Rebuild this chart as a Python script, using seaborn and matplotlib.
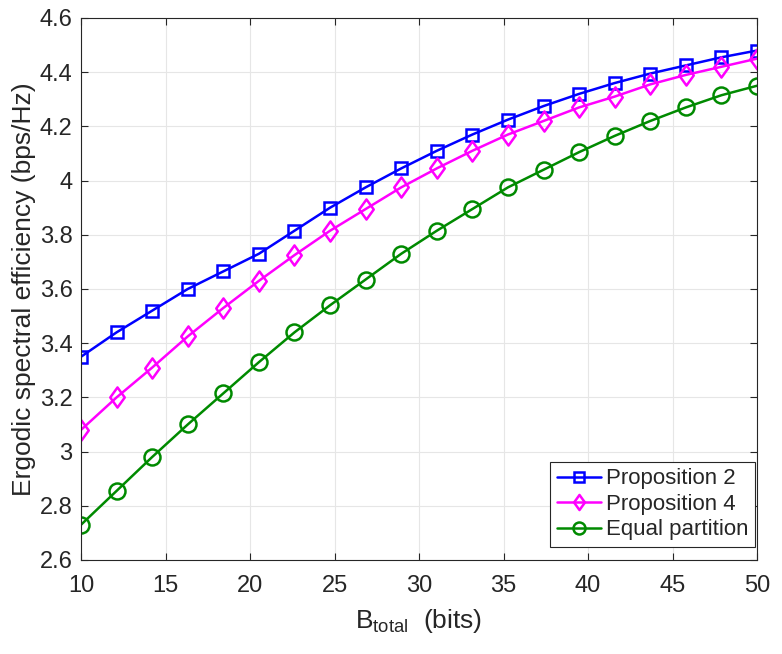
import numpy as np
import pandas as pd
import matplotlib
matplotlib.use("Agg")
import matplotlib.pyplot as plt
from matplotlib.path import Path
import seaborn as sns

# B_total values (20 points from 10 to 50 bits)
b_total = np.linspace(10, 50, 20)

prop2 = [3.35, 3.44, 3.52, 3.60, 3.665, 3.73, 3.815, 3.90, 3.975, 4.045,
         4.11, 4.17, 4.225, 4.275, 4.32, 4.36, 4.395, 4.425, 4.455, 4.48]
prop4 = [3.08, 3.20, 3.31, 3.425, 3.53, 3.63, 3.725, 3.815, 3.895, 3.975,
         4.045, 4.11, 4.17, 4.22, 4.27, 4.31, 4.355, 4.39, 4.42, 4.45]
equal = [2.73, 2.855, 2.98, 3.10, 3.215, 3.33, 3.44, 3.54, 3.635, 3.73,
         3.815, 3.895, 3.975, 4.04, 4.105, 4.165, 4.22, 4.27, 4.315, 4.35]

series_names = ["Proposition 2", "Proposition 4", "Equal partition"]
x_ticks = [10, 15, 20, 25, 30, 35, 40, 45, 50]
y_ticks = [2.6, 2.8, 3.0, 3.2, 3.4, 3.6, 3.8, 4.0, 4.2, 4.4, 4.6]
y_tick_labels = ["2.6", "2.8", "3", "3.2", "3.4", "3.6", "3.8", "4", "4.2", "4.4", "4.6"]

sns.set_style("ticks")
plt.rcParams['font.family'] = ['Liberation Sans', 'DejaVu Sans']
plt.rcParams['mathtext.default'] = 'regular'

# MATLAB-style tall diamond
diamond = Path([(0, 1), (0.72, 0), (0, -1), (-0.72, 0), (0, 1)],
               [Path.MOVETO, Path.LINETO, Path.LINETO, Path.LINETO, Path.CLOSEPOLY])

fig = plt.figure(figsize=(7.82, 6.54), dpi=100)
ax = fig.add_axes([81 / 782, 1 - 560 / 654, 676 / 782, 542 / 654])

styles = [
    ("s", "#0000ff", 9.0),
    (diamond, "#ff00ff", 14.5),
    ("o", "#008a00", 11.5),
]
for name, vals, (mk, col, ms) in zip(series_names, [prop2, prop4, equal], styles):
    df = pd.DataFrame({"x": b_total, "y": vals})
    sns.lineplot(data=df, x="x", y="y", ax=ax, color=col, marker=mk,
                 markersize=ms, markerfacecolor="none", markeredgecolor=col,
                 markeredgewidth=1.8, linewidth=1.8, label=name)

ax.set_xlim(10, 50)
ax.set_ylim(2.6, 4.6)
ax.set_xticks(x_ticks)
ax.set_yticks(y_ticks)
ax.set_yticklabels(y_tick_labels)
ax.tick_params(direction="in", top=True, right=True, labelsize=17,
               colors="#262626", length=5, width=0.8)
ax.tick_params(axis="x", pad=11)
ax.tick_params(axis="y", pad=6)
ax.grid(True, color="#e6e6e6", linewidth=0.8)
for sp in ax.spines.values():
    sp.set_visible(True)
    sp.set_color("#262626")
    sp.set_linewidth(0.8)

ax.set_xlabel(r"B$_{total}$  (bits)", fontsize=19, color="#262626", labelpad=7)
ax.set_ylabel("Ergodic spectral efficiency (bps/Hz)", fontsize=19,
              color="#262626", labelpad=3)

leg = ax.legend(loc="lower right", bbox_to_anchor=(0.997, 0.024),
                borderaxespad=0, fontsize=16, fancybox=False, framealpha=1,
                edgecolor="#262626", handlelength=2.0, borderpad=0.3,
                labelspacing=0.2, handletextpad=0.2, markerscale=0.75)
leg.get_frame().set_linewidth(0.8)

fig.savefig("out.png", dpi=100)
